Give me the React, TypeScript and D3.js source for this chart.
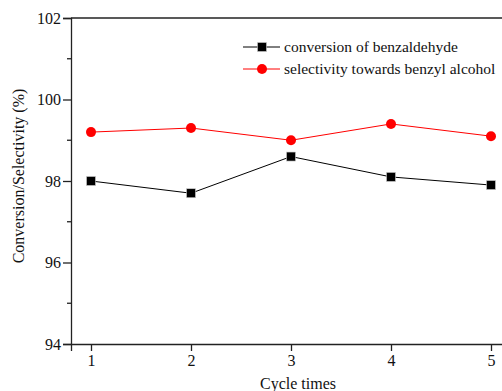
import React, { useEffect, useRef } from 'react'
import * as d3 from 'd3'

const cycles = [1, 2, 3, 4, 5]
const conversion = [98.0, 97.7, 98.6, 98.1, 97.9]
const selectivity = [99.2, 99.3, 99.0, 99.4, 99.1]
const yTicks = [94, 96, 98, 100, 102]
const yMinor = [95, 97, 99, 101]
const seriesNames = ['conversion of benzaldehyde', 'selectivity towards benzyl alcohol']

const App = () => {
  const ref = useRef<SVGSVGElement | null>(null)

  useEffect(() => {
    const w = 502
    const h = 391
    const left = 71
    const top = 18
    const bottom = 344
    const font = "'Liberation Serif', 'Times New Roman', serif"

    const svg = d3.select(ref.current)
    svg.selectAll('*').remove()

    const xScale = d3.scaleLinear().domain([0.8, 5.2]).range([left, left + 440])
    const yScale = d3.scaleLinear().domain([94, 102]).range([bottom, top])

    // top frame line
    svg.append('line')
      .attr('x1', left).attr('x2', w + 10).attr('y1', top).attr('y2', top)
      .attr('stroke', '#222').attr('stroke-width', 1.3)

    // y axis
    const yAxis = svg.append('g').attr('transform', `translate(${left},0)`)
      .call(d3.axisLeft(yScale).tickValues(yTicks).tickSize(8).tickPadding(2).tickFormat(d3.format('d')))
    yAxis.select('.domain').attr('stroke', '#222').attr('stroke-width', 1.3)
    yAxis.selectAll('.tick line').attr('stroke', '#222').attr('stroke-width', 1.3)
    yAxis.selectAll('.tick text').attr('font-family', font).attr('font-size', 16).attr('fill', '#111')
    svg.append('g').selectAll('line').data(yMinor).enter().append('line')
      .attr('x1', left - 4).attr('x2', left)
      .attr('y1', d => yScale(d)).attr('y2', d => yScale(d))
      .attr('stroke', '#222').attr('stroke-width', 1.3)

    // x axis
    const xAxis = svg.append('g').attr('transform', `translate(0,${bottom})`)
      .call(d3.axisBottom(xScale).tickValues(cycles).tickSize(7).tickPadding(4).tickFormat(d3.format('d')))
    xAxis.select('.domain').attr('stroke', '#222').attr('stroke-width', 1.3)
    xAxis.selectAll('.tick line').attr('stroke', '#222').attr('stroke-width', 1.3)
    xAxis.selectAll('.tick text').attr('font-family', font).attr('font-size', 16).attr('fill', '#111')

    // axis titles
    svg.append('text')
      .attr('x', 298).attr('y', 389)
      .attr('text-anchor', 'middle')
      .attr('font-family', font).attr('font-size', 16).attr('fill', '#111')
      .text('Cycle times')
    svg.append('text')
      .attr('transform', `translate(24,176) rotate(-90)`)
      .attr('text-anchor', 'middle')
      .attr('font-family', font).attr('font-size', 16).attr('fill', '#111')
      .text('Conversion/Selectivity (%)')

    const line = d3.line<number>().x((d, i) => xScale(cycles[i])).y(d => yScale(d))

    svg.append('path').datum(selectivity).attr('d', line)
      .attr('fill', 'none').attr('stroke', '#ff0000').attr('stroke-width', 1)
    svg.append('path').datum(conversion).attr('d', line)
      .attr('fill', 'none').attr('stroke', '#000').attr('stroke-width', 1)

    svg.append('g').selectAll('rect').data(conversion).enter().append('rect')
      .attr('x', (d, i) => xScale(cycles[i]) - 4.5)
      .attr('y', d => yScale(d) - 4.5)
      .attr('width', 9).attr('height', 9)
      .attr('fill', '#000').attr('stroke', '#ccc').attr('stroke-width', 0.6)
    svg.append('g').selectAll('circle').data(selectivity).enter().append('circle')
      .attr('cx', (d, i) => xScale(cycles[i]))
      .attr('cy', d => yScale(d))
      .attr('r', 5)
      .attr('fill', '#ff0000')

    // legend
    const legend = svg.append('g')
    const rows = [
      { name: seriesNames[0], color: '#000', y: 47 },
      { name: seriesNames[1], color: '#ff0000', y: 69 }
    ]
    rows.forEach((r, i) => {
      legend.append('line')
        .attr('x1', 243).attr('x2', 280).attr('y1', r.y).attr('y2', r.y)
        .attr('stroke', r.color).attr('stroke-width', 1)
      if (i === 0) {
        legend.append('rect').attr('x', 257.5).attr('y', r.y - 4.5).attr('width', 9).attr('height', 9)
          .attr('fill', '#000').attr('stroke', '#ccc').attr('stroke-width', 0.6)
      } else {
        legend.append('circle').attr('cx', 262).attr('cy', r.y).attr('r', 5).attr('fill', '#ff0000')
      }
      legend.append('text')
        .attr('x', 284).attr('y', r.y + 5)
        .attr('font-family', font).attr('font-size', 15.5).attr('fill', '#111')
        .text(r.name)
    })

    svg.attr('width', w).attr('height', h)
  }, [])

  return (
    <svg ref={ref} width={502} height={391}
      style={{ position: 'absolute', left: 0, top: 0, background: '#fff' }} />
  )
}

export default App
